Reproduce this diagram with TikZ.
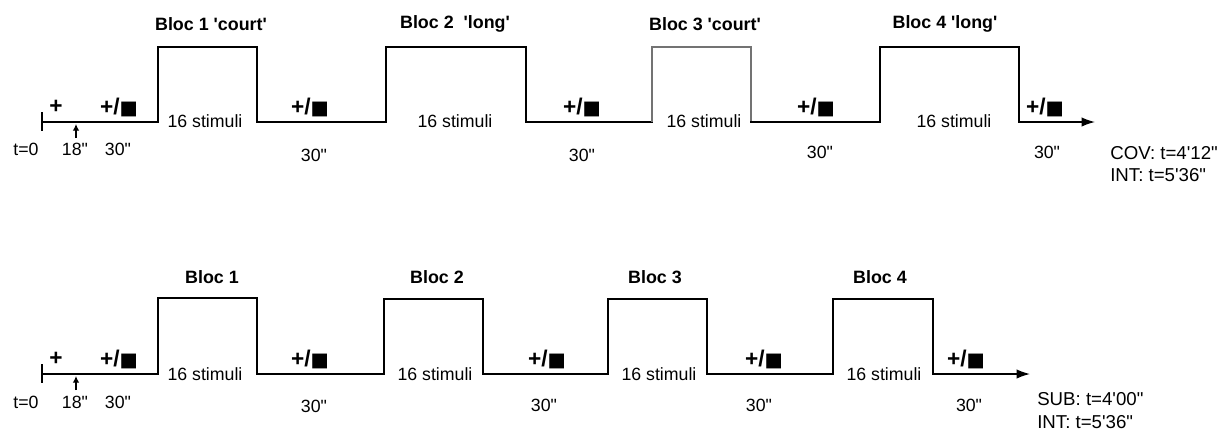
\documentclass[tikz,border=0pt]{standalone}
\usepackage{fontspec}
\setmainfont{Liberation Sans}
\newfontfamily\symfont{DejaVu Sans}
\usetikzlibrary{arrows.meta}
\newcommand\blksq{{\symfont\fontsize{14.5pt}{15pt}\selectfont ■}}
\newcommand\qs{\textquotesingle}
\newcommand\qd{\textquotedbl}
\begin{document}
\begin{tikzpicture}[x=0.75pt,y=-0.75pt,
  lbl/.style={font=\fontsize{13.3pt}{15pt}\selectfont, inner sep=0pt},
  side/.style={font=\fontsize{14pt}{15pt}\selectfont, inner sep=0pt, anchor=west},
  ttl/.style={font=\fontsize{13.4pt}{15pt}\selectfont\bfseries, inner sep=0pt},
  mk/.style={font=\fontsize{17pt}{18pt}\selectfont\bfseries, inner sep=0pt},
  tline/.style={line width=1.1pt, line join=miter, line cap=rect},
  mainarrow/.style={-{Latex[length=10pt,width=7pt]}},
  smallarrow/.style={line width=1pt, -{Latex[length=5pt,width=5pt]}},
  thickseg/.style={line width=2pt},
  greyseg/.style={line width=1.1pt, draw=black!55}]
\useasboundingbox (0,0) rectangle (1228,437);

% ---------------- top timeline ----------------
\coordinate (A0) at (42,122);
\coordinate (A1) at (158,122); \coordinate (A1h) at (158,47);
\coordinate (A2h) at (257,47); \coordinate (A2) at (257,122);
\coordinate (A3) at (386,122); \coordinate (A3h) at (386,47);
\coordinate (A4h) at (526,47); \coordinate (A4) at (526,122);
\coordinate (A5) at (652,122); \coordinate (A5h) at (652,47);
\coordinate (A6h) at (751,47); \coordinate (A6) at (751,122);
\coordinate (A7) at (880,122); \coordinate (A7h) at (880,47);
\coordinate (A8h) at (1019,47); \coordinate (A8) at (1019,122);
\coordinate (AE) at (1095,122);
\coordinate (Atk1) at (42,112); \coordinate (Atk2) at (42,131);
\coordinate (Aar1) at (76,138); \coordinate (Aar2) at (76,124);

\draw[tline] (A0) -- (A1) -- (A1h) -- (A2h) -- (A2) -- (A3) -- (A3h) -- (A4h) -- (A4) -- (A5);
\draw[greyseg] (A5) -- (A5h) -- (A6h) -- (A6);
\draw[tline, mainarrow] (A6) -- (A7) -- (A7h) -- (A8h) -- (A8) -- (AE);
\coordinate (Ak1) at (530,122); \coordinate (Ak2) at (642,122);
\coordinate (Ak3) at (751,122); \coordinate (Ak4) at (833,122);
\draw[thickseg] (Ak1) -- (Ak2);
\draw[thickseg] (Ak3) -- (Ak4);
\draw[line width=1pt] (Atk1) -- (Atk2);
\draw[smallarrow] (Aar1) -- (Aar2);

\node[ttl] (Ab1) at (211,24) {Bloc 1 \qs court\qs};
\node[ttl] (Ab2) at (455,24) {Bloc 2\ \ \qs long\qs};
\node[ttl] (Ab3) at (705,24) {Bloc 3 \qs court\qs};
\node[ttl] (Ab4) at (945,24) {Bloc 4 \qs long\qs};

\node[mk] (Ap) at (56,107) {+};
\node[mk] (Am1) at (119,107) {+/\blksq};
\node[mk] (Am2) at (310,107) {+/\blksq};
\node[mk] (Am3) at (582,107) {+/\blksq};
\node[mk] (Am4) at (816,107) {+/\blksq};
\node[mk] (Am5) at (1045,107) {+/\blksq};

\node[lbl] (As1) at (205,121) {16 stimuli};
\node[lbl] (As2) at (455,121) {16 stimuli};
\node[lbl] (As3) at (704,121) {16 stimuli};
\node[lbl] (As4) at (954,121) {16 stimuli};

\node[lbl] (At0) at (26,149) {t=0};
\node[lbl] (At18) at (75,149) {18\qd};
\node[lbl] (Ad1) at (118,149) {30\qd};
\node[lbl] (Ad2) at (314,155) {30\qd};
\node[lbl] (Ad3) at (582,155) {30\qd};
\node[lbl] (Ad4) at (820,152) {30\qd};
\node[lbl] (Ad5) at (1047,152) {30\qd};

\node[side] (Acov) at (1110,153) {COV: t=4\qs 12\qd};
\node[side] (Aint) at (1110,175) {INT: t=5\qs 36\qd};

% ---------------- bottom timeline ----------------
\coordinate (B0) at (42,374);
\coordinate (B1) at (158,374); \coordinate (B1h) at (158,298);
\coordinate (B2h) at (257,298); \coordinate (B2) at (257,374);
\coordinate (B3) at (384,374); \coordinate (B3h) at (384,299);
\coordinate (B4h) at (483,299); \coordinate (B4) at (483,374);
\coordinate (B5) at (608,374); \coordinate (B5h) at (608,299);
\coordinate (B6h) at (707,299); \coordinate (B6) at (707,374);
\coordinate (B7) at (833,374); \coordinate (B7h) at (833,299);
\coordinate (B8h) at (933,299); \coordinate (B8) at (933,374);
\coordinate (BE) at (1030,374);
\coordinate (Btk1) at (42,364); \coordinate (Btk2) at (42,383);
\coordinate (Bar1) at (76,390); \coordinate (Bar2) at (76,376);

\draw[tline, mainarrow] (B0) -- (B1) -- (B1h) -- (B2h) -- (B2) -- (B3) -- (B3h) -- (B4h) -- (B4) -- (B5) -- (B5h) -- (B6h) -- (B6) -- (B7) -- (B7h) -- (B8h) -- (B8) -- (BE);
\coordinate (Bk1) at (268,374); \coordinate (Bk2) at (340,374);
\draw[thickseg] (Bk1) -- (Bk2);
\draw[line width=1pt] (Btk1) -- (Btk2);
\draw[smallarrow] (Bar1) -- (Bar2);

\node[ttl] (Bb1) at (212,277) {Bloc 1};
\node[ttl] (Bb2) at (437,277) {Bloc 2};
\node[ttl] (Bb3) at (655,277) {Bloc 3};
\node[ttl] (Bb4) at (880,277) {Bloc 4};

\node[mk] (Bp) at (56,359) {+};
\node[mk] (Bm1) at (119,359) {+/\blksq};
\node[mk] (Bm2) at (310,359) {+/\blksq};
\node[mk] (Bm3) at (547,359) {+/\blksq};
\node[mk] (Bm4) at (764,359) {+/\blksq};
\node[mk] (Bm5) at (966,359) {+/\blksq};

\node[lbl] (Bs1) at (205,374) {16 stimuli};
\node[lbl] (Bs2) at (435,374) {16 stimuli};
\node[lbl] (Bs3) at (659,374) {16 stimuli};
\node[lbl] (Bs4) at (884,374) {16 stimuli};

\node[lbl] (Bt0) at (26,402) {t=0};
\node[lbl] (Bt18) at (75,402) {18\qd};
\node[lbl] (Bd1) at (118,402) {30\qd};
\node[lbl] (Bd2) at (314,406) {30\qd};
\node[lbl] (Bd3) at (544,405) {30\qd};
\node[lbl] (Bd4) at (759,405) {30\qd};
\node[lbl] (Bd5) at (969,405) {30\qd};

\node[side] (Bsub) at (1037,399) {SUB: t=4\qs 00\qd};
\node[side] (Bint) at (1037,422) {INT: t=5\qs 36\qd};
\end{tikzpicture}
\end{document}
